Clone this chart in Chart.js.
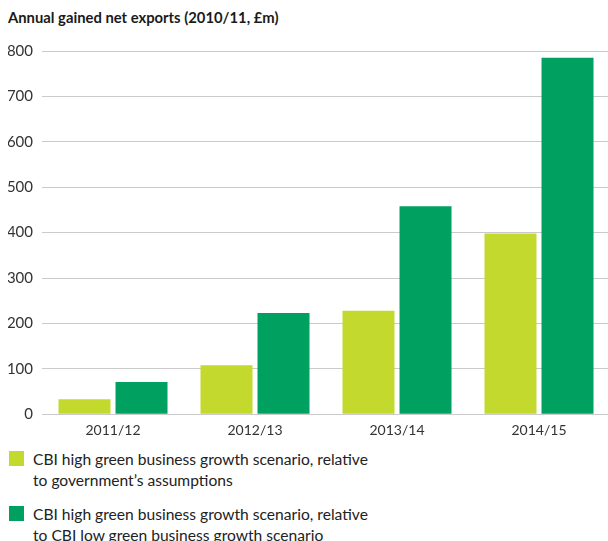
<!DOCTYPE html>
<html>
<head>
<meta charset="utf-8">
<script src="https://cdn.jsdelivr.net/npm/chart.js@4.4.1/dist/chart.umd.min.js"></script>
<style>
    html, body { margin: 0; padding: 0; background: #fff; overflow: hidden; }
    body { width: 608px; height: 541px; position: relative; font-family: Lato, "Open Sans", sans-serif; }
    #title { position: absolute; left: 8px; top: 8px; font-size: 14.8px; font-weight: bold; color: #1a1a1a; }
    #wrap { position: absolute; left: 0; top: 0; width: 612px; height: 447px; }
    #legend { position: absolute; left: 9px; top: 449px; }
    .item { display: flex; align-items: flex-start; margin-bottom: 13px; }
    .swatch { width: 15px; height: 15px; margin-top: 2px; margin-right: 9px; flex: none; }
    .text { font-size: 15.6px; line-height: 21px; color: #222; white-space: pre-line; }
</style>
</head>
<body>
<div id="title">Annual gained net exports (2010/11, £m)</div>
<div id="wrap"><canvas id="exportsChart"></canvas></div>
<div id="legend"></div>
<script>
const years = ['2011/12', '2012/13', '2013/14', '2014/15'];
const vsGovernment = [33, 108, 228, 398];
const vsLowGrowth = [71, 223, 458, 785];
const yTicks = [0, 100, 200, 300, 400, 500, 600, 700, 800];

const seriesLabels = [
    'CBI high green business growth scenario, relative\nto government\u2019s assumptions',
    'CBI high green business growth scenario, relative\nto CBI low green business growth scenario'
];
const seriesColors = ['#c3d92e', '#00a060'];

const ctx = document.getElementById('exportsChart').getContext('2d');
const chart = new Chart(ctx, {
    type: 'bar',
    data: {
        labels: years,
        datasets: [{
            label: seriesLabels[0],
            data: vsGovernment,
            backgroundColor: seriesColors[0],
            borderWidth: 0
        }, {
            label: seriesLabels[1],
            data: vsLowGrowth,
            backgroundColor: seriesColors[1],
            borderWidth: 0
        }]
    },
    options: {
        responsive: true,
        maintainAspectRatio: false,
        animation: false,
        layout: {
            padding: { left: 8, top: 51, right: 2, bottom: 0 }
        },
        datasets: {
            bar: {
                categoryPercentage: 0.803,
                barPercentage: 0.912
            }
        },
        plugins: {
            legend: { display: false },
            tooltip: { enabled: false }
        },
        scales: {
            x: {
                grid: { display: false, drawTicks: false },
                border: { display: false },
                ticks: {
                    color: '#333',
                    padding: 8,
                    font: { family: 'Lato', size: 14 }
                }
            },
            y: {
                min: 0,
                max: 800,
                afterBuildTicks: axis => {
                    axis.ticks = yTicks.map(v => ({ value: v }));
                },
                afterFit: axis => {
                    axis.width = 34;
                },
                grid: {
                    color: '#cacaca',
                    lineWidth: 1,
                    drawTicks: false
                },
                border: { display: false },
                ticks: {
                    color: '#333',
                    padding: 9,
                    font: { family: 'Lato', size: 15 }
                }
            }
        }
    }
});

// legend with wrapped two-line labels
const legend = document.getElementById('legend');
chart.data.datasets.forEach(ds => {
    const item = document.createElement('div');
    item.className = 'item';
    const swatch = document.createElement('div');
    swatch.className = 'swatch';
    swatch.style.background = ds.backgroundColor;
    const text = document.createElement('div');
    text.className = 'text';
    text.textContent = ds.label;
    item.appendChild(swatch);
    item.appendChild(text);
    legend.appendChild(item);
});
</script>
</body>
</html>
